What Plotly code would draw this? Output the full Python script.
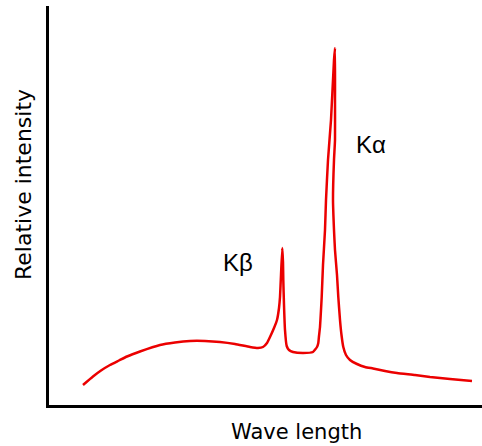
import plotly.graph_objects as go

# Spectrum (arbitrary units: wavelength, intensity)
wavelength = [34, 44, 52, 61, 70, 78, 91, 111, 126, 141, 156, 171, 186, 201, 209, 214,
              218, 221, 225, 228, 230, 231, 232, 233.3, 234, 234.3, 235, 236, 237.7, 240, 244,
              254, 264, 268, 269.3, 270, 271, 272, 272.7, 274, 276, 277, 279, 282, 285, 286,
              286, 286, 285, 284, 285, 286, 288, 289.3, 291, 292.5, 294.3, 297, 301,
              308, 316, 324, 336, 348, 366, 381, 401, 423]
intensity = [20, 28.5, 34.5, 40, 44.5, 48.5, 53.5, 60, 62.5, 64, 64, 63, 61, 58, 57, 58,
             62, 68, 77, 85, 97, 108, 130, 157, 143, 125, 100, 75, 59, 55, 53,
             52, 53, 58, 62, 69, 78, 95, 108, 140, 175, 205, 245, 285, 345, 357,
             305, 265, 245, 205, 175, 155, 130, 108, 85, 70, 58, 50, 45,
             41, 38, 36.5, 34, 32, 30, 28, 26, 24]

peak_labels = ["Kβ", "Kα"]
peak_label_x = [189, 322]
peak_label_y = [143, 261]

x_title = "Wave length"
y_title = "Relative intensity"

fig = go.Figure()
fig.add_trace(go.Scatter(
    x=wavelength, y=intensity, mode="lines",
    line=dict(color="rgb(235,0,0)", width=2.5, shape="spline", smoothing=0.4),
    hoverinfo="skip", showlegend=False,
))

for t, lx, ly in zip(peak_labels, peak_label_x, peak_label_y):
    fig.add_annotation(x=lx, y=ly, text=t, showarrow=False,
                       font=dict(family="Liberation Sans, Arial", size=24, color="black"),
                       xanchor="center", yanchor="middle")

fig.add_annotation(xref="paper", yref="paper", x=(296 - 49) / 433, y=-0.068,
                   text=x_title, showarrow=False, xanchor="center", yanchor="middle",
                   font=dict(family="DejaVu Sans", size=21, color="black"))
fig.add_annotation(xref="paper", yref="paper", x=-0.06, y=(405 - 185) / 399,
                   text=y_title, showarrow=False, textangle=-90,
                   xanchor="center", yanchor="middle",
                   font=dict(family="DejaVu Sans", size=22, color="black"))

fig.update_xaxes(range=[0, 433], showline=True, linecolor="black", linewidth=3,
                 showgrid=False, zeroline=False, showticklabels=False, ticks="")
fig.update_yaxes(range=[0, 399], showline=True, linecolor="black", linewidth=3,
                 showgrid=False, zeroline=False, showticklabels=False, ticks="")

fig.update_layout(
    width=482, height=446,
    margin=dict(l=49, r=0, t=6, b=41),
    plot_bgcolor="white", paper_bgcolor="white",
)

fig.write_html("out.html")
